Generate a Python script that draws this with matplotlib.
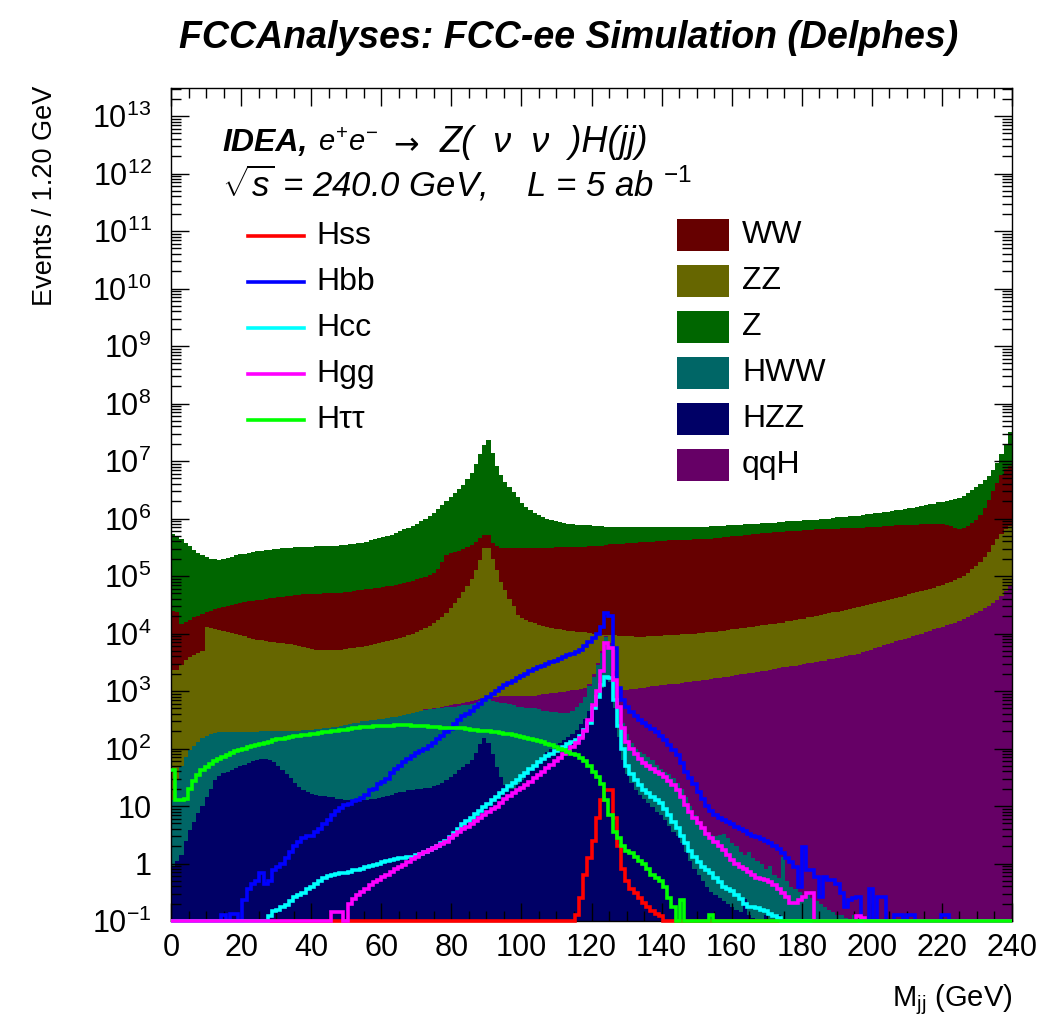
import numpy as np
import matplotlib
matplotlib.use("Agg")
import matplotlib.pyplot as plt
from matplotlib import font_manager
from matplotlib.lines import Line2D
from matplotlib.patches import Rectangle
from matplotlib.ticker import FixedLocator, FixedFormatter, LogLocator, MultipleLocator, NullFormatter


def has_font(name):
    try:
        font_manager.findfont(font_manager.FontProperties(family=name), fallback_to_default=False)
        return True
    except Exception:
        return False


NARROW = 'Liberation Sans Narrow' if has_font('Liberation Sans Narrow') else 'Liberation Sans'
WIDE = 'Liberation Sans'

# ---------------- binning ----------------
X_MIN, X_MAX, N_BINS = 0.0, 240.0, 200          # 1.2 GeV bins
Y_MIN, Y_MAX = 0.1, 10 ** 13.487

# ---------------- data (log10 of events / bin) ----------------
# Stacked histogram: cumulative heights of the stack (bottom -> top: HZZ, HWW, qqH, ZZ, WW, Z)
N = None
log10_stack_Z = [
    5.73, 5.69, 5.64, 5.57, 5.52, 5.45, 5.40, 5.36, 5.33, 5.30,
    5.29, 5.28, 5.29, 5.31, 5.33, 5.36, 5.38, 5.39, 5.40, 5.42,
    5.43, 5.44, 5.45, 5.46, 5.47, 5.47, 5.48, 5.49, 5.49, 5.50,
    5.50, 5.51, 5.51, 5.51, 5.52, 5.52, 5.52, 5.52, 5.53, 5.53,
    5.54, 5.54, 5.55, 5.56, 5.57, 5.58, 5.60, 5.62, 5.64, 5.66,
    5.68, 5.70, 5.72, 5.75, 5.78, 5.81, 5.84, 5.87, 5.91, 5.95,
    5.99, 6.04, 6.10, 6.17, 6.24, 6.31, 6.37, 6.44, 6.51, 6.59,
    6.68, 6.80, 6.95, 7.12, 7.28, 7.37, 7.14, 6.92, 6.76, 6.64,
    6.55, 6.46, 6.37, 6.27, 6.20, 6.14, 6.10, 6.06, 6.03, 6.00,
    5.97, 5.95, 5.94, 5.92, 5.91, 5.90, 5.89, 5.89, 5.88, 5.88,
    5.87, 5.87, 5.87, 5.86, 5.86, 5.86, 5.86, 5.86, 5.86, 5.86,
    5.86, 5.86, 5.86, 5.86, 5.86, 5.86, 5.86, 5.86, 5.86, 5.86,
    5.86, 5.86, 5.86, 5.86, 5.86, 5.86, 5.86, 5.86, 5.87, 5.87,
    5.87, 5.87, 5.88, 5.88, 5.89, 5.89, 5.90, 5.90, 5.91, 5.91,
    5.92, 5.92, 5.93, 5.93, 5.94, 5.94, 5.95, 5.95, 5.96, 5.96,
    5.97, 5.97, 5.98, 5.98, 5.99, 6.00, 6.00, 6.01, 6.02, 6.02,
    6.03, 6.04, 6.04, 6.05, 6.06, 6.07, 6.08, 6.09, 6.10, 6.11,
    6.12, 6.13, 6.14, 6.15, 6.16, 6.18, 6.19, 6.20, 6.21, 6.23,
    6.25, 6.26, 6.28, 6.29, 6.31, 6.32, 6.34, 6.36, 6.40, 6.45,
    6.50, 6.54, 6.60, 6.67, 6.74, 6.85, 6.97, 7.13, 7.30, 7.50,
]
log10_stack_WW = [
    4.40, 4.38, 4.17, 4.20, 4.24, 4.28, 4.31, 4.34, 4.37, 4.40,
    4.42, 4.44, 4.46, 4.48, 4.50, 4.52, 4.53, 4.55, 4.56, 4.57,
    4.58, 4.59, 4.60, 4.61, 4.62, 4.63, 4.64, 4.65, 4.66, 4.67,
    4.67, 4.68, 4.68, 4.68, 4.69, 4.69, 4.70, 4.70, 4.70, 4.71,
    4.71, 4.72, 4.73, 4.74, 4.75, 4.76, 4.77, 4.78, 4.79, 4.80,
    4.81, 4.82, 4.83, 4.84, 4.86, 4.88, 4.90, 4.92, 4.94, 4.97,
    4.99, 5.01, 5.05, 5.12, 5.25, 5.37, 5.40, 5.42, 5.44, 5.47,
    5.50, 5.54, 5.60, 5.66, 5.71, 5.71, 5.58, 5.52, 5.49, 5.48,
    5.48, 5.48, 5.48, 5.48, 5.48, 5.48, 5.49, 5.49, 5.49, 5.49,
    5.49, 5.50, 5.50, 5.50, 5.50, 5.51, 5.51, 5.51, 5.51, 5.52,
    5.52, 5.53, 5.53, 5.54, 5.55, 5.55, 5.56, 5.56, 5.57, 5.57,
    5.58, 5.59, 5.59, 5.60, 5.60, 5.61, 5.61, 5.61, 5.62, 5.62,
    5.62, 5.63, 5.63, 5.63, 5.64, 5.64, 5.65, 5.65, 5.65, 5.66,
    5.66, 5.67, 5.68, 5.69, 5.70, 5.70, 5.71, 5.72, 5.73, 5.73,
    5.74, 5.75, 5.75, 5.76, 5.77, 5.77, 5.78, 5.78, 5.79, 5.79,
    5.80, 5.80, 5.80, 5.81, 5.81, 5.81, 5.82, 5.82, 5.82, 5.83,
    5.83, 5.83, 5.84, 5.84, 5.84, 5.85, 5.85, 5.86, 5.86, 5.87,
    5.87, 5.87, 5.88, 5.88, 5.88, 5.89, 5.89, 5.89, 5.90, 5.90,
    5.90, 5.90, 5.90, 5.90, 5.89, 5.87, 5.84, 5.82, 5.83, 5.87,
    5.92, 5.98, 6.06, 6.18, 6.33, 6.48, 6.62, 6.76, 6.86, 6.92,
]
log10_stack_ZZ = [
    3.37, 3.37, 3.45, 3.54, 3.60, 3.63, 3.66, 3.70, 4.12, 4.10,
    4.08, 4.06, 4.04, 4.03, 4.01, 3.99, 3.97, 3.95, 3.93, 3.91,
    3.89, 3.88, 3.87, 3.86, 3.85, 3.84, 3.83, 3.82, 3.81, 3.80,
    3.78, 3.76, 3.74, 3.73, 3.72, 3.71, 3.71, 3.71, 3.71, 3.72,
    3.72, 3.73, 3.74, 3.75, 3.76, 3.77, 3.78, 3.80, 3.82, 3.84,
    3.85, 3.87, 3.88, 3.90, 3.92, 3.94, 3.97, 4.00, 4.03, 4.06,
    4.09, 4.13, 4.19, 4.24, 4.29, 4.35, 4.44, 4.53, 4.62, 4.72,
    4.83, 4.95, 5.10, 5.28, 5.48, 5.48, 5.30, 5.10, 4.90, 4.75,
    4.60, 4.47, 4.33, 4.27, 4.23, 4.20, 4.18, 4.15, 4.13, 4.11,
    4.09, 4.08, 4.07, 4.06, 4.05, 4.04, 4.03, 4.02, 4.02, 4.01,
    4.00, 3.99, 3.98, 3.98, 3.97, 3.97, 3.96, 3.96, 3.95, 3.95,
    3.94, 3.94, 3.94, 3.95, 3.95, 3.96, 3.96, 3.97, 3.97, 3.98,
    3.98, 3.99, 3.99, 4.00, 4.00, 4.01, 4.01, 4.02, 4.02, 4.03,
    4.04, 4.05, 4.06, 4.07, 4.08, 4.09, 4.10, 4.11, 4.12, 4.13,
    4.14, 4.15, 4.16, 4.17, 4.18, 4.19, 4.21, 4.22, 4.23, 4.25,
    4.26, 4.28, 4.29, 4.31, 4.32, 4.34, 4.35, 4.37, 4.38, 4.40,
    4.41, 4.43, 4.44, 4.46, 4.47, 4.49, 4.51, 4.53, 4.55, 4.57,
    4.58, 4.60, 4.62, 4.64, 4.66, 4.68, 4.70, 4.72, 4.74, 4.76,
    4.78, 4.80, 4.83, 4.85, 4.87, 4.90, 4.93, 4.96, 5.00, 5.05,
    5.12, 5.18, 5.25, 5.33, 5.42, 5.54, 5.64, 5.73, 5.81, 5.87,
]
log10_stack_qqH = [
    1.10, 1.45, 1.70, 1.86, 1.97, 2.05, 2.12, 2.18, 2.22, 2.25,
    2.27, 2.28, 2.29, 2.29, 2.29, 2.29, 2.29, 2.29, 2.29, 2.29,
    2.29, 2.30, 2.30, 2.30, 2.31, 2.31, 2.31, 2.31, 2.31, 2.31,
    2.31, 2.32, 2.32, 2.33, 2.34, 2.34, 2.35, 2.36, 2.37, 2.38,
    2.39, 2.41, 2.42, 2.44, 2.45, 2.47, 2.48, 2.49, 2.50, 2.51,
    2.52, 2.53, 2.54, 2.55, 2.56, 2.58, 2.60, 2.62, 2.64, 2.66,
    2.68, 2.69, 2.70, 2.71, 2.73, 2.74, 2.76, 2.77, 2.78, 2.80,
    2.81, 2.82, 2.84, 2.86, 2.87, 2.88, 2.89, 2.90, 2.91, 2.92,
    2.92, 2.92, 2.92, 2.92, 2.92, 2.92, 2.92, 2.93, 2.94, 2.95,
    2.96, 2.97, 2.98, 2.99, 3.00, 3.01, 3.02, 3.04, 3.06, 3.12,
    3.30, 3.48, 3.70, 3.96, 3.83, 3.35, 3.05, 3.02, 3.02, 3.03,
    3.04, 3.05, 3.06, 3.07, 3.08, 3.09, 3.10, 3.11, 3.12, 3.13,
    3.13, 3.14, 3.15, 3.16, 3.17, 3.18, 3.19, 3.20, 3.21, 3.22,
    3.23, 3.24, 3.25, 3.26, 3.28, 3.29, 3.30, 3.31, 3.32, 3.33,
    3.34, 3.35, 3.36, 3.38, 3.40, 3.41, 3.42, 3.43, 3.44, 3.45,
    3.47, 3.48, 3.49, 3.50, 3.52, 3.53, 3.55, 3.56, 3.58, 3.59,
    3.61, 3.62, 3.63, 3.65, 3.67, 3.69, 3.71, 3.74, 3.77, 3.80,
    3.82, 3.84, 3.87, 3.89, 3.91, 3.93, 3.95, 3.97, 4.00, 4.02,
    4.04, 4.07, 4.09, 4.12, 4.14, 4.17, 4.19, 4.22, 4.25, 4.28,
    4.32, 4.36, 4.40, 4.44, 4.48, 4.53, 4.58, 4.66, 4.74, 4.82,
]
log10_stack_HWW = [
    1.10, 1.45, 1.70, 1.86, 1.97, 2.05, 2.12, 2.18, 2.22, 2.25,
    2.27, 2.28, 2.29, 2.29, 2.29, 2.29, 2.29, 2.29, 2.29, 2.29,
    2.29, 2.30, 2.30, 2.30, 2.31, 2.31, 2.31, 2.31, 2.31, 2.31,
    2.31, 2.32, 2.32, 2.33, 2.34, 2.34, 2.35, 2.36, 2.37, 2.38,
    2.39, 2.41, 2.42, 2.44, 2.45, 2.47, 2.48, 2.49, 2.50, 2.51,
    2.52, 2.53, 2.54, 2.55, 2.56, 2.58, 2.60, 2.62, 2.64, 2.66,
    2.67, 2.68, 2.69, 2.70, 2.71, 2.72, 2.73, 2.73, 2.74, 2.75,
    2.76, 2.78, 2.80, 2.83, 2.86, 2.86, 2.83, 2.81, 2.80, 2.79,
    2.77, 2.75, 2.73, 2.72, 2.71, 2.70, 2.70, 2.68, 2.66, 2.65,
    2.64, 2.63, 2.62, 2.61, 2.61, 2.65, 2.73, 2.80, 2.90, 3.08,
    3.25, 3.45, 3.66, 3.94, 3.80, 3.25, 2.75, 2.45, 2.25, 2.10,
    2.00, 1.94, 1.90, 1.85, 1.80, 1.72, 1.65, 1.60, 1.55, 1.48,
    1.40, 1.30, 1.15, 1.00, 0.85, 0.72, 0.62, 0.55, 0.50, 0.47,
    0.50, 0.52, 0.45, 0.35, 0.30, 0.20, 0.15, 0.20, 0.10, 0.05,
    0.00, -0.10, -0.05, -0.20, -0.25, 0.12, -0.30, -0.40, -0.45, -0.50,
    -0.55, -0.50, -0.60, -0.65, -0.70, -0.75, -0.80, -0.85, -0.90, -0.90,
    -0.95, N, -0.90, N, N, N, N, N, N, N,
    N, N, N, N, N, N, N, N, N, N,
    N, N, N, N, N, N, N, N, N, N,
    N, N, N, N, N, N, N, N, N, N,
]
log10_stack_HZZ = [
    -0.05, 0.05, 0.15, 0.40, 0.58, 0.72, 0.87, 1.00, 1.15, 1.30,
    1.45, 1.52, 1.57, 1.60, 1.63, 1.66, 1.69, 1.72, 1.75, 1.78,
    1.80, 1.81, 1.81, 1.80, 1.76, 1.70, 1.63, 1.55, 1.48, 1.40,
    1.33, 1.28, 1.24, 1.21, 1.19, 1.18, 1.17, 1.16, 1.15, 1.13,
    1.12, 1.11, 1.10, 1.10, 1.10, 1.10, 1.11, 1.12, 1.13, 1.14,
    1.16, 1.18, 1.20, 1.22, 1.24, 1.25, 1.27, 1.28, 1.29, 1.30,
    1.31, 1.32, 1.34, 1.36, 1.40, 1.45, 1.50, 1.55, 1.62, 1.68,
    1.73, 1.80, 1.93, 2.07, 2.18, 2.10, 1.90, 1.68, 1.50, 1.36,
    1.30, 1.30, 1.38, 1.46, 1.54, 1.62, 1.70, 1.78, 1.86, 1.94,
    2.00, 2.05, 2.10, 2.15, 2.20, 2.25, 2.32, 2.42, 2.52, 2.65,
    2.80, 2.92, 3.05, 3.25, 3.15, 2.70, 2.20, 1.80, 1.55, 1.40,
    1.28, 1.20, 1.12, 1.05, 0.98, 0.90, 0.85, 0.75, 0.65, 0.55,
    0.48, 0.35, 0.20, 0.05, -0.10, -0.20, -0.30, -0.40, -0.50, -0.55,
    -0.60, -0.65, -0.70, -0.75, -0.80, -0.85, -0.62, -0.90, -0.95, N,
    N, -0.90, N, N, -0.90, N, N, N, N, N,
    N, N, N, N, N, N, N, N, N, N,
    N, N, N, N, N, N, N, N, N, N,
    N, N, N, N, N, N, N, N, N, N,
    N, N, N, N, N, N, N, N, N, N,
    N, N, N, N, N, N, N, N, N, N,
]

# Signal lines (non stacked), log10 events / bin, None = empty bin
log10_Hss = [N] * 96 + [
    -0.90, -0.60, -0.20, 0.10,
    0.40, 0.80, 1.10, 1.28, 1.28, 0.80, 0.30, -0.10, -0.30, -0.45,
    -0.52, -0.60, -0.69, -0.75, -0.82, -0.87, -0.92, N, N, N,
] + [N] * 80
log10_Hbb = [
    N, N, N, N, N, N, N, N, N, N,
    N, N, -0.90, N, -0.88, -0.88, N, -0.63, -0.45, -0.35,
    -0.30, -0.17, -0.35, -0.30, -0.12, -0.06, 0.00, 0.10, 0.20, 0.30,
    0.38, 0.45, 0.47, 0.48, 0.55, 0.60, 0.68, 0.76, 0.85, 0.92,
    0.97, 1.01, 1.04, 1.08, 1.11, 1.14, 1.20, 1.27, 1.30, 1.38,
    1.42, 1.47, 1.58, 1.65, 1.70, 1.76, 1.82, 1.87, 1.92, 1.96,
    2.00, 2.04, 2.10, 2.16, 2.22, 2.28, 2.34, 2.42, 2.50, 2.56,
    2.60, 2.66, 2.72, 2.78, 2.84, 2.90, 2.95, 3.00, 3.05, 3.10,
    3.14, 3.18, 3.22, 3.26, 3.30, 3.34, 3.38, 3.41, 3.44, 3.47,
    3.50, 3.53, 3.56, 3.59, 3.62, 3.65, 3.68, 3.72, 3.78, 3.85,
    3.92, 4.00, 4.12, 4.35, 4.30, 3.75, 3.05, 2.85, 2.72, 2.63,
    2.56, 2.50, 2.45, 2.40, 2.34, 2.28, 2.22, 2.14, 2.06, 1.97,
    1.88, 1.75, 1.60, 1.48, 1.38, 1.25, 1.12, 1.00, 0.92, 0.85,
    0.80, 0.76, 0.72, 0.68, 0.64, 0.60, 0.56, 0.52, 0.48, 0.46,
    0.43, 0.40, 0.35, 0.30, 0.25, 0.18, 0.10, 0.02, -0.06, -0.40,
    0.29, -0.11, -0.11, -0.23, -0.58, -0.23, -0.29, -0.29, -0.35, -0.52,
    -0.75, -0.63, -0.60, -0.58, N, N, -0.45, N, -0.58, -0.58,
    N, N, -0.90, -0.90, N, -0.90, -0.90, N, N, N,
    N, N, N, -0.90, -0.90, N, N, N, N, N,
    N, N, N, N, N, N, N, N, N, N,
]
log10_Hcc = [N] * 20 + [
    N, N, N, -0.92, -0.82, -0.80, -0.76, -0.72, -0.65, -0.58,
    -0.55, -0.52, -0.45, -0.40, -0.35, -0.30, -0.25, -0.22, -0.20, -0.18,
    -0.17, -0.16, -0.14, -0.12, -0.11, -0.09, -0.06, -0.04, -0.02, 0.00,
    0.02, 0.04, 0.06, 0.08, 0.10, 0.10, 0.11, 0.12, 0.14, 0.17,
    0.20, 0.23, 0.27, 0.31, 0.35, 0.40, 0.46, 0.53, 0.60, 0.68,
    0.74, 0.80, 0.86, 0.92, 0.98, 1.04, 1.10, 1.16, 1.22, 1.28,
    1.34, 1.40, 1.46, 1.52, 1.58, 1.64, 1.70, 1.76, 1.82, 1.87,
    1.91, 1.95, 1.99, 2.03, 2.07, 2.11, 2.15, 2.22, 2.32, 2.45,
    2.70, 2.90, 3.10, 3.25, 3.22, 2.85, 2.40, 2.00, 1.70, 1.55,
    1.45, 1.36, 1.28, 1.22, 1.16, 1.10, 1.05, 0.95, 0.85, 0.73,
    0.62, 0.48, 0.35, 0.22, 0.12, 0.02, -0.06, -0.12, -0.17, -0.25,
    -0.33, -0.40, -0.44, -0.48, -0.55, -0.62, -0.70, -0.75, -0.75, -0.78,
    -0.80, -0.82, -0.88, -0.92, -0.95, N, N, N, N, N,
] + [N] * 50
log10_Hgg = [N] * 30 + [
    N, N, N, N, N, N, N, N, -0.84, -0.84,
    -0.84, N, -0.70, -0.62, -0.55, -0.50, -0.44, -0.38, -0.32, -0.28,
    -0.24, -0.20, -0.14, -0.10, -0.06, -0.02, 0.03, 0.07, 0.12, 0.16,
    0.20, 0.24, 0.27, 0.30, 0.34, 0.38, 0.44, 0.50, 0.55, 0.60,
    0.64, 0.69, 0.74, 0.79, 0.84, 0.89, 0.94, 0.99, 1.05, 1.12,
    1.17, 1.22, 1.27, 1.32, 1.37, 1.42, 1.48, 1.54, 1.60, 1.66,
    1.72, 1.78, 1.84, 1.90, 1.96, 2.02, 2.10, 2.18, 2.30, 2.50,
    2.75, 3.00, 3.35, 3.83, 3.75, 3.20, 2.72, 2.35, 2.12, 2.00,
    1.90, 1.82, 1.75, 1.70, 1.65, 1.60, 1.56, 1.50, 1.43, 1.36,
    1.28, 1.15, 1.02, 0.90, 0.80, 0.70, 0.62, 0.52, 0.45, 0.38,
    0.30, 0.23, 0.15, 0.06, 0.00, -0.06, -0.10, -0.15, -0.20, -0.25,
    -0.27, -0.29, -0.33, -0.38, -0.45, -0.52, -0.58, -0.69, -0.69, -0.63,
    -0.58, -0.52, -0.52, N, N, N, N, N, N, N,
    N, N, N, -0.92, -0.95, N, N, N, N, N,
] + [N] * 30
log10_Htautau = [
    1.62, 1.10, 1.10, 1.12, 1.30, 1.44, 1.54, 1.62, 1.68, 1.73,
    1.78, 1.82, 1.86, 1.89, 1.92, 1.95, 1.98, 2.00, 2.02, 2.04,
    2.06, 2.08, 2.10, 2.12, 2.14, 2.16, 2.17, 2.19, 2.20, 2.21,
    2.22, 2.23, 2.24, 2.25, 2.26, 2.27, 2.28, 2.29, 2.30, 2.31,
    2.32, 2.33, 2.34, 2.35, 2.36, 2.37, 2.38, 2.38, 2.39, 2.39,
    2.40, 2.40, 2.40, 2.41, 2.41, 2.41, 2.41, 2.40, 2.40, 2.40,
    2.39, 2.38, 2.38, 2.37, 2.36, 2.36, 2.35, 2.35, 2.35, 2.35,
    2.34, 2.33, 2.32, 2.31, 2.30, 2.30, 2.29, 2.28, 2.27, 2.26,
    2.25, 2.23, 2.22, 2.20, 2.19, 2.17, 2.15, 2.13, 2.11, 2.08,
    2.06, 2.03, 2.00, 1.97, 1.94, 1.91, 1.88, 1.84, 1.78, 1.70,
    1.60, 1.50, 1.38, 1.10, 0.85, 0.55, 0.45, 0.30, 0.22, 0.18,
    0.12, 0.05, 0.00, -0.10, -0.20, -0.25, -0.30, -0.40, -0.60, -0.75,
    N, -0.63, N, N, N, N, N, N, -0.90, N,
] + [N] * 70

# legend entries
stack_names = ['WW', 'ZZ', 'Z', 'HWW', 'HZZ', 'qqH']
signal_names = ['Hss', 'Hbb', 'Hcc', 'Hgg', 'H\u03c4\u03c4']

# ---------------- style ----------------
COL = {'Z': '#006600', 'WW': '#660000', 'ZZ': '#666600', 'qqH': '#660066',
       'HWW': '#006666', 'HZZ': '#000066'}
LINE_COL = ['#ff0000', '#0000ff', '#00ffff', '#ff00ff', '#00ff00']

plt.rcParams['font.family'] = [WIDE, 'DejaVu Sans']
plt.rcParams['mathtext.fontset'] = 'custom'
plt.rcParams['mathtext.rm'] = NARROW
plt.rcParams['mathtext.it'] = NARROW + ':italic'
plt.rcParams['mathtext.bf'] = NARROW + ':bold'


def counts(arr):
    return np.array([0.0 if v is None else 10.0 ** v for v in arr])


W, H = 1045, 1026
fig = plt.figure(figsize=(W / 100, H / 100), dpi=100)
ax_l, ax_r, ax_t, ax_b = 171, 1012, 88, 921
ax = fig.add_axes([ax_l / W, 1 - ax_b / H, (ax_r - ax_l) / W, (ax_b - ax_t) / H])

edges = np.linspace(X_MIN, X_MAX, N_BINS + 1)

# stacked histogram, drawn from the total down (ROOT style)
stack_layers = [('Z', log10_stack_Z), ('WW', log10_stack_WW), ('ZZ', log10_stack_ZZ),
                ('qqH', log10_stack_qqH), ('HWW', log10_stack_HWW), ('HZZ', log10_stack_HZZ)]
for i, (name, arr) in enumerate(stack_layers):
    ax.stairs(counts(arr), edges, baseline=1e-3, fill=True, color=COL[name],
              linewidth=0, zorder=1 + 0.1 * i)

# signal lines
signals = [log10_Hss, log10_Hbb, log10_Hcc, log10_Hgg, log10_Htautau]
for i, arr in enumerate(signals):
    vals = np.maximum(counts(arr), Y_MIN)
    ax.stairs(vals, edges, baseline=None, color=LINE_COL[i], linewidth=2.6,
              zorder=3 + 0.1 * i, clip_on=False)

ax.set_xlim(X_MIN, X_MAX)
ax.set_yscale('log')
ax.set_ylim(Y_MIN, Y_MAX)

ax.xaxis.set_major_locator(MultipleLocator(20))
ax.xaxis.set_minor_locator(MultipleLocator(5))
exps = list(range(-1, 14))
ax.yaxis.set_major_locator(FixedLocator([10.0 ** k for k in exps]))
ylabels = []
for k in exps:
    if k == 0:
        ylabels.append('1')
    elif k == 1:
        ylabels.append('10')
    else:
        ylabels.append(r'$10^{%d}$' % k)
ax.yaxis.set_major_formatter(FixedFormatter(ylabels))
ax.yaxis.set_minor_locator(LogLocator(base=10, subs=np.arange(2, 10), numticks=40))
ax.yaxis.set_minor_formatter(NullFormatter())

ax.tick_params(which='both', direction='in', top=True, right=True, width=1.0, colors='black')
ax.tick_params(which='major', length=13)
ax.tick_params(which='minor', length=7)
ax.tick_params(axis='y', which='major', pad=14, labelsize=22)
ax.tick_params(axis='x', which='major', pad=9, labelsize=22)
for lab in ax.get_xticklabels() + ax.get_yticklabels():
    lab.set_fontfamily(NARROW)
for sp in ax.spines.values():
    sp.set_linewidth(1.0)
ax.set_zorder(2)


def fx(x):
    return x / W


def fy(y):
    return 1 - y / H


# title
fig.text(fx(569), fy(38), 'FCCAnalyses: FCC-ee Simulation (Delphes)', ha='center', va='center',
         fontsize=27, fontweight='bold', fontstyle='italic', family=WIDE)

# axis titles
fig.text(fx(45), fy(86), 'Events / 1.20 GeV', rotation=90, ha='center', va='top',
         fontsize=19.5, family=NARROW)
fig.text(fx(1012), fy(1000), r'M$_{\rm jj}$ (GeV)', ha='right', va='center',
         fontsize=21, family=NARROW)

# labels inside the frame
fig.text(fx(222), fy(143), 'IDEA,', ha='left', va='center', fontsize=23,
         fontweight='bold', fontstyle='italic', family=NARROW, zorder=10)
fig.text(fx(318), fy(143), r'$e^{+}e^{-}$', ha='left', va='center',
         fontsize=21, family=NARROW, zorder=10)
fig.text(fx(393), fy(146), '\u2192', ha='left', va='center',
         fontsize=22, family=['DejaVu Sans'], zorder=10)
fig.text(fx(440), fy(143), 'Z(  \u03bd  \u03bd  )H(jj)', ha='left', va='center',
         fontsize=26, fontstyle='italic', family=NARROW, zorder=10)
fig.text(fx(222), fy(183), r'$\sqrt{s}$ = 240.0 GeV,    L = 5 ab $^{-1}$', ha='left', va='center',
         fontsize=25, fontstyle='italic', family=NARROW, zorder=10)

# legend: signal lines
sig_rows = [235.7, 281.7, 327.7, 373.7, 420.0]
for i, name in enumerate(signal_names):
    y = sig_rows[i]
    fig.add_artist(Line2D([fx(248), fx(304)], [fy(y), fy(y)], color=LINE_COL[i],
                          linewidth=2.6, zorder=10))
    fig.text(fx(316), fy(y), name, ha='left', va='center', fontsize=23, family=WIDE, zorder=10)

# legend: stacked backgrounds
bkg_rows = [235.3, 281.0, 327.0, 373.0, 419.0, 465.0]
for i, name in enumerate(stack_names):
    y = bkg_rows[i]
    fig.add_artist(Rectangle((fx(677), fy(y + 16)), (729 - 677) / W, 32 / H,
                             facecolor=COL[name], edgecolor='none', zorder=10))
    fig.text(fx(742), fy(y), name, ha='left', va='center', fontsize=23, family=WIDE, zorder=10)

fig.savefig('out.png', dpi=100)
